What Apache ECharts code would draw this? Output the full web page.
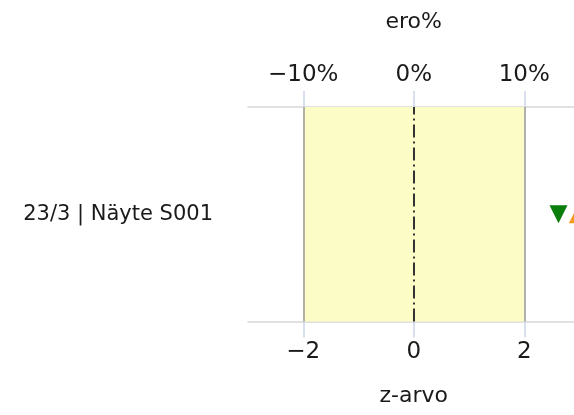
<!DOCTYPE html>
<html>
<head>
<meta charset="utf-8">
<script src="https://cdn.jsdelivr.net/npm/echarts@6/dist/echarts.min.js"></script>
<style>
  html, body { margin: 0; padding: 0; background: #fff; }
  #chart { width: 574px; height: 415px; }
</style>
</head>
<body>
<div id="chart"></div>
<script>
// data
var categories = ['23/3 | Näyte S001'];
var zTicks = [-2, 0, 2];
var pctTicks = [-10, 0, 10];
var zDown = [2.62];   // green down triangle
var zUp = [2.97];     // orange up triangle (cut off at right edge)
var bandLow = -2;
var bandHigh = 2;

var font = 'DejaVu Sans';
var chart = echarts.init(document.getElementById('chart'));

var option = {
  animation: false,
  grid: { left: 248, width: 331.5, top: 107, bottom: 93.5, containLabel: false, outerBoundsMode: 'none' },
  xAxis: [
    {
      type: 'value', position: 'bottom', min: -3, max: 3,
      name: 'z-arvo', nameLocation: 'middle', nameGap: 64,
      nameTextStyle: { fontFamily: font, fontSize: 22, color: '#1a1a1a' },
      splitLine: { show: false },
      axisLine: { show: true, lineStyle: { color: '#d8d8d8', width: 1.5 } },
      axisTick: { show: true, length: 16, customValues: zTicks, lineStyle: { color: '#ccd6eb', width: 1.5 } },
      axisLabel: { customValues: zTicks, margin: 19, fontFamily: font, fontSize: 23, color: '#1a1a1a',
        formatter: function (v) { return v < 0 ? '\u2212' + (-v) : '' + v; } }
    },
    {
      type: 'value', position: 'top', min: -15, max: 15,
      name: 'ero%', nameLocation: 'middle', nameGap: 74,
      nameTextStyle: { fontFamily: font, fontSize: 22, color: '#1a1a1a' },
      splitLine: { show: false },
      axisLine: { show: true, lineStyle: { color: '#d8d8d8', width: 1.5 } },
      axisTick: { show: true, length: 16, customValues: pctTicks, lineStyle: { color: '#ccd6eb', width: 1.5 } },
      axisLabel: { customValues: pctTicks, margin: 20, fontFamily: font, fontSize: 23, color: '#1a1a1a',
        formatter: function (v) { return (v < 0 ? '\u2212' + (-v) : '' + v) + '%'; } }
    }
  ],
  yAxis: {
    type: 'category', data: categories,
    axisLine: { show: false }, axisTick: { show: false }, splitLine: { show: false },
    axisLabel: { margin: 35, fontFamily: font, fontSize: 21, color: '#1a1a1a' }
  },
  series: [
    {
      type: 'scatter', xAxisIndex: 0, symbol: 'triangle', symbolRotate: 180, symbolSize: [18, 18],
      itemStyle: { color: '#0a7d0a', opacity: 1 },
      data: zDown.map(function (v, i) { return [v, categories[i]]; }),
      z: 5,
      markArea: {
        silent: true,
        itemStyle: { color: '#fcfcc6' },
        data: [[{ xAxis: bandLow }, { xAxis: bandHigh }]]
      },
      markLine: {
        silent: true, symbol: 'none', label: { show: false },
        data: [
          { xAxis: bandLow, lineStyle: { color: '#999', width: 1.5, type: 'solid' } },
          { xAxis: bandHigh, lineStyle: { color: '#999', width: 1.5, type: 'solid' } },
          { xAxis: 0, lineStyle: { color: '#333', width: 2, type: [13, 4, 2, 4] } }
        ]
      }
    },
    {
      type: 'scatter', xAxisIndex: 0, symbol: 'triangle', symbolSize: [18, 18],
      itemStyle: { color: '#f59a1b', opacity: 1 },
      data: zUp.map(function (v, i) { return [v, categories[i]]; }),
      z: 5
    }
  ]
};
chart.setOption(option);
</script>
</body>
</html>
